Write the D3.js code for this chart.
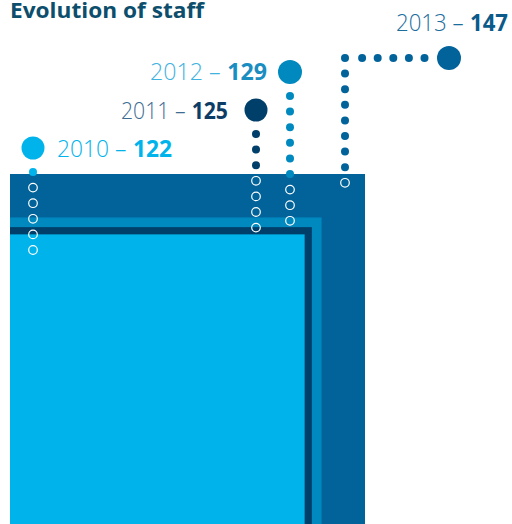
<!DOCTYPE html>
<html><head><meta charset="utf-8">
<script src="https://cdn.jsdelivr.net/npm/d3@7"></script>
<style>
html,body{margin:0;padding:0;background:#fff;overflow:hidden}
svg{display:block}
text{font-family:"Open Sans",sans-serif}
</style></head>
<body>
<svg id="c" width="512" height="524"></svg>
<script>
const years = ["2010","2011","2012","2013"];
const values = [122,125,129,147];
const dotCounts = [6,7,9,8];
const colors = ["#00b4eb","#013f6b","#0089bf","#02639a"];
const labelColors = ["#00b4eb","#3d6c92","#3fb2e0","#1b6d9d"];
const valueColors = ["#00b4eb","#0d3d66","#1a8dc1","#0b5a8a"];

const svg = d3.select("#c");
const originX = 10, baseY = 529;
const side = d3.scaleLinear().domain([0, 147]).range([0, 355]);

const idx = d3.range(years.length).sort((a,b)=>values[b]-values[a]);
svg.append("g").selectAll("rect").data(idx).join("rect")
  .attr("x", originX)
  .attr("y", i => baseY - side(values[i]))
  .attr("width", i => side(values[i]))
  .attr("height", i => side(values[i]))
  .attr("fill", i => colors[i]);

const maxTop = baseY - side(d3.max(values));

const bubbles = [
  {cx: 33, cy: 148, r: 11.5, lx: 57, ly: 157, vx: 33, w: 115},
  {cx: 256, cy: 110, r: 11.5, lx: 121, ly: 119, vx: 256, w: 107},
  {cx: 290, cy: 72, r: 12, lx: 150, ly: 80, vx: 290, w: 117},
  {cx: 449, cy: 58, r: 12, lx: 396, ly: 31, vx: 345, w: 112}
];
const step = 15.6;
const gap = 7;

const dotsG = svg.append("g");
years.forEach((y, i) => {
  const b = bubbles[i];
  const pts = [];
  if (b.vx !== b.cx) {
    for (let x = b.cx - 24.5; x > b.vx + 2; x -= step) pts.push([x, b.cy]);
    pts.push([b.vx, b.cy]);
    for (let k = 1; k <= dotCounts[i]; k++) pts.push([b.vx, b.cy + k * step]);
  } else {
    for (let k = 0; k < dotCounts[i]; k++) pts.push([b.vx, b.cy + 24 + k * step]);
  }
  pts.forEach(p => {
    const inside = p[1] > maxTop;
    dotsG.append("circle")
      .attr("cx", p[0]).attr("cy", p[1])
      .attr("r", inside ? 4.3 : 4)
      .attr("fill", inside ? "none" : colors[i])
      .attr("stroke", inside ? "#fff" : "none")
      .attr("stroke-width", 1.2);
  });
  svg.append("circle").attr("cx", b.cx).attr("cy", b.cy).attr("r", b.r).attr("fill", colors[i]);

  const t1 = svg.append("text").attr("y", b.ly).attr("fill", labelColors[i])
    .style("font-size", "24px").style("font-weight", 300).text(y + " –");
  const t2 = svg.append("text").attr("y", b.ly).attr("fill", valueColors[i])
    .style("font-size", "24px").style("font-weight", 700).text(values[i]);
  const l1 = t1.node().getComputedTextLength();
  const l2 = t2.node().getComputedTextLength();
  const f = b.w / (l1 + gap + l2);
  t1.attr("x", b.lx).attr("textLength", l1 * f).attr("lengthAdjust", "spacingAndGlyphs");
  t2.attr("x", b.lx + (l1 + gap) * f).attr("textLength", l2 * f).attr("lengthAdjust", "spacingAndGlyphs");
});

svg.append("text").attr("x", 10).attr("y", 18)
  .attr("fill", "#0c4e6c").style("font-weight", 700).style("font-size", "21px")
  .attr("textLength", 194).attr("lengthAdjust", "spacingAndGlyphs")
  .text("Evolution of staff");
</script>
</body></html>
